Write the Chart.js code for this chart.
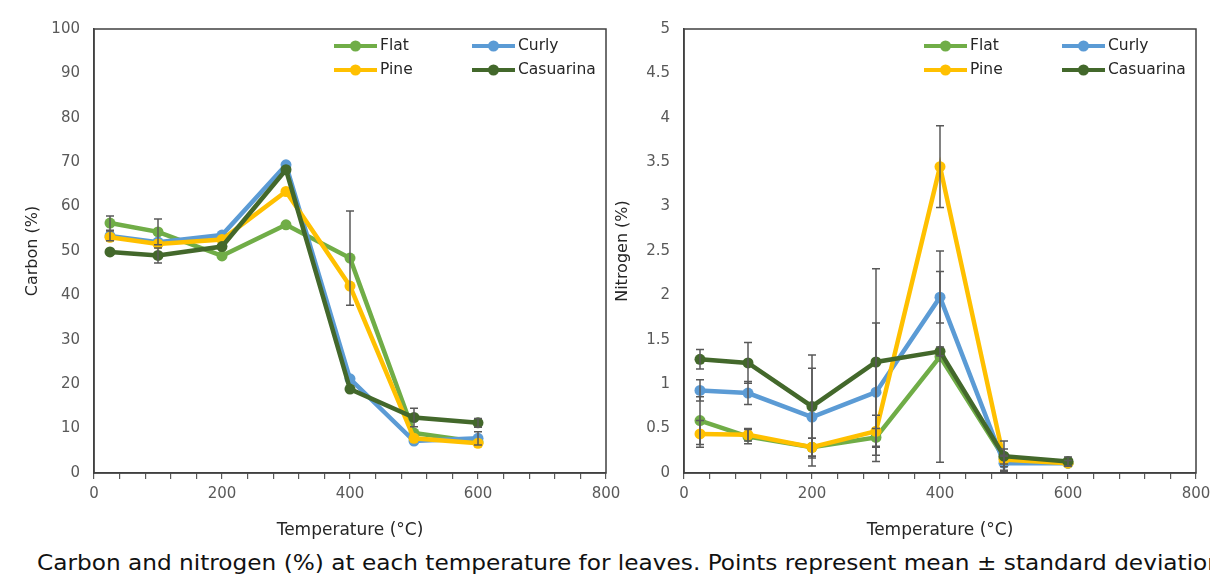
<!DOCTYPE html>
<html>
<head>
<meta charset="utf-8">
<script src="https://cdn.jsdelivr.net/npm/chart.js@4.4.0/dist/chart.umd.min.js"></script>
<style>
  body { margin: 0; width: 1210px; height: 579px; overflow: hidden; background: #fff; position: relative; }
  .box { position: absolute; top: 0; height: 545px; }
  #caption { position: absolute; left: 37px; top: 551px; font-family: "DejaVu Sans", sans-serif; font-size: 21px;
    white-space: nowrap; transform-origin: 0 0; color: #111; }
</style>
</head>
<body>
<div class="box" style="left:0;width:620px"><canvas id="carbonChart"></canvas></div>
<div class="box" style="left:600px;width:630px"><canvas id="nitrogenChart"></canvas></div>
<div id="caption">Carbon and nitrogen (%) at each temperature for leaves. Points represent mean ± standard deviation</div>
<script>
// temperatures (°C)
const temps = [25, 100, 200, 300, 400, 500, 600]
const seriesNames = ['Flat', 'Curly', 'Pine', 'Casuarina']
const colores = ['#70AD47', '#5B9BD5', '#FFC000', '#43682B']

// carbon (%)
const carbonFlat = [56.3, 54.3, 48.9, 55.9, 48.4, 9.0, 7.0]
const carbonCurly = [53.4, 52.0, 53.6, 69.4, 21.2, 7.2, 7.8]
const carbonPine = [53.1, 51.6, 52.6, 63.4, 42.1, 7.8, 6.7]
const carbonCas = [49.8, 49.0, 51.0, 68.3, 18.9, 12.5, 11.3]
const carbonFlatSd = [1.6, 2.9, 0, 0, 10.6, 0, 0]
const carbonCurlySd = [1.1, 0, 0, 0, 0, 0, 1.5]
const carbonPineSd = [0, 0, 0, 0, 0, 0, 0]
const carbonCasSd = [0, 1.7, 0, 0, 0, 2.1, 1.0]

// nitrogen (%)
const nitroFlat = [0.59, 0.41, 0.29, 0.40, 1.31, 0.17, 0.11]
const nitroCurly = [0.93, 0.90, 0.63, 0.91, 1.98, 0.11, 0.11]
const nitroPine = [0.44, 0.43, 0.29, 0.47, 3.45, 0.15, 0.11]
const nitroCas = [1.28, 1.24, 0.75, 1.25, 1.37, 0.19, 0.13]
const nitroFlatSd = [0.27, 0.08, 0.1, 0.1, 1.19, 0.1, 0]
const nitroCurlySd = [0.12, 0.13, 0.55, 0.78, 0.29, 0.08, 0]
const nitroPineSd = [0.15, 0.07, 0.1, 0.18, 0.46, 0.05, 0.03]
const nitroCasSd = [0.11, 0.23, 0.58, 1.05, 0.05, 0.17, 0.05]

const xTicks = [0, 200, 400, 600, 800]
const carbonTicks = [0, 10, 20, 30, 40, 50, 60, 70, 80, 90, 100]
const nitroTicks = [0, 0.5, 1, 1.5, 2, 2.5, 3, 3.5, 4, 4.5, 5]

const axisGray = '#595959'
const fuente = '"DejaVu Sans", sans-serif'

function armarDatasets(valores, desvios) {
  return valores.map((serie, i) => ({
    label: seriesNames[i],
    data: temps.map((t, j) => ({ x: t, y: serie[j] })),
    sd: desvios[i],
    borderColor: colores[i],
    backgroundColor: colores[i],
    pointBackgroundColor: colores[i],
    pointBorderColor: colores[i],
    borderWidth: 4.5,
    pointRadius: 5.5,
    pointBorderWidth: 0,
    order: 4 - i
  }))
}

// error bars, drawn with the chart scales
const errorBars = {
  id: 'errorBars',
  afterDatasetsDraw(chart) {
    const ctx = chart.ctx
    const xs = chart.scales.x, ys = chart.scales.y
    ctx.save()
    ctx.strokeStyle = '#595959'
    ctx.lineWidth = 1.5
    chart.data.datasets.forEach(ds => {
      ds.data.forEach((p, j) => {
        const e = ds.sd[j]
        if (!e) return
        const x = xs.getPixelForValue(p.x)
        const y1 = ys.getPixelForValue(p.y + e)
        const y2 = ys.getPixelForValue(p.y - e)
        ctx.beginPath()
        ctx.moveTo(x, y1); ctx.lineTo(x, y2)
        ctx.moveTo(x - 4, y1); ctx.lineTo(x + 4, y1)
        ctx.moveTo(x - 4, y2); ctx.lineTo(x + 4, y2)
        ctx.stroke()
      })
    })
    ctx.restore()
  }
}

// frame around plot area + legend in the top right corner
const marcoYLeyenda = {
  id: 'marcoYLeyenda',
  afterDraw(chart) {
    const ctx = chart.ctx, a = chart.chartArea
    ctx.save()
    ctx.strokeStyle = '#404040'
    ctx.lineWidth = 1.5
    ctx.strokeRect(a.left, a.top, a.right - a.left, a.bottom - a.top)
    const spots = [[240, 17], [378, 17], [240, 41], [378, 41]]
    ctx.font = '15.5px ' + fuente
    ctx.textBaseline = 'middle'
    spots.forEach((s, i) => {
      const x0 = a.left + s[0], y = a.top + s[1]
      ctx.strokeStyle = colores[i]
      ctx.lineWidth = 4
      ctx.beginPath(); ctx.moveTo(x0, y); ctx.lineTo(x0 + 43, y); ctx.stroke()
      ctx.fillStyle = colores[i]
      ctx.beginPath(); ctx.arc(x0 + 21.5, y, 5.5, 0, Math.PI * 2); ctx.fill()
      ctx.fillStyle = '#262626'
      ctx.fillText(seriesNames[i], x0 + 46, y)
    })
    ctx.restore()
  }
}

function crearGrafico(id, datasets, yTitle, yTicks, yMax, yWidth, yTitlePad, padRight) {
  return new Chart(document.getElementById(id), {
    type: 'line',
    data: { datasets },
    plugins: [errorBars, marcoYLeyenda],
    options: {
      responsive: true,
      maintainAspectRatio: false,
      animation: false,
      layout: { padding: { top: 29, right: padRight, bottom: 0, left: 0 } },
      plugins: { legend: { display: false }, tooltip: { enabled: false } },
      scales: {
        x: {
          type: 'linear', min: 0, max: 800,
          afterBuildTicks(scale) {
            const t = []
            for (let v = 0; v <= 800; v += 40) t.push({ value: v })
            scale.ticks = t
          },
          afterFit(scale) {
            scale.height = 72
            scale.paddingLeft = 0
            scale.paddingRight = 0
          },
          grid: { drawOnChartArea: false, drawTicks: true, tickLength: 6, color: axisGray, lineWidth: 1.2 },
          border: { color: '#404040', width: 1.5 },
          ticks: {
            autoSkip: false, maxRotation: 0, padding: 6, color: axisGray,
            font: { family: fuente, size: 15 },
            callback: v => xTicks.includes(v) ? String(v) : ''
          },
          title: { display: true, text: 'Temperature (°C)', color: '#262626',
            font: { family: fuente, size: 17 }, padding: { top: 0, bottom: 4 } }
        },
        y: {
          type: 'linear', min: 0, max: yMax,
          afterBuildTicks(scale) { scale.ticks = yTicks.map(v => ({ value: v })) },
          afterFit(scale) {
            scale.width = yWidth
            scale.paddingTop = 0
            scale.paddingBottom = 0
          },
          grid: { display: false, drawTicks: false },
          border: { color: '#404040', width: 1.5 },
          ticks: { padding: 14, color: axisGray, font: { family: fuente, size: 15 },
            callback: v => String(v) },
          title: { display: true, text: yTitle, color: '#262626',
            font: { family: fuente, size: 16 }, padding: { top: yTitlePad, bottom: 0 } }
        }
      }
    }
  })
}

crearGrafico('carbonChart',
  armarDatasets([carbonFlat, carbonCurly, carbonPine, carbonCas],
    [carbonFlatSd, carbonCurlySd, carbonPineSd, carbonCasSd]),
  'Carbon (%)', carbonTicks, 100, 94, 23, 14)

crearGrafico('nitrogenChart',
  armarDatasets([nitroFlat, nitroCurly, nitroPine, nitroCas],
    [nitroFlatSd, nitroCurlySd, nitroPineSd, nitroCasSd]),
  'Nitrogen (%)', nitroTicks, 5, 84, 13, 34)

// squeeze caption so it runs off the right edge like the original
const cap = document.getElementById('caption')
cap.style.transform = 'scaleX(' + (1185 / cap.offsetWidth) + ')'
</script>
</body>
</html>
